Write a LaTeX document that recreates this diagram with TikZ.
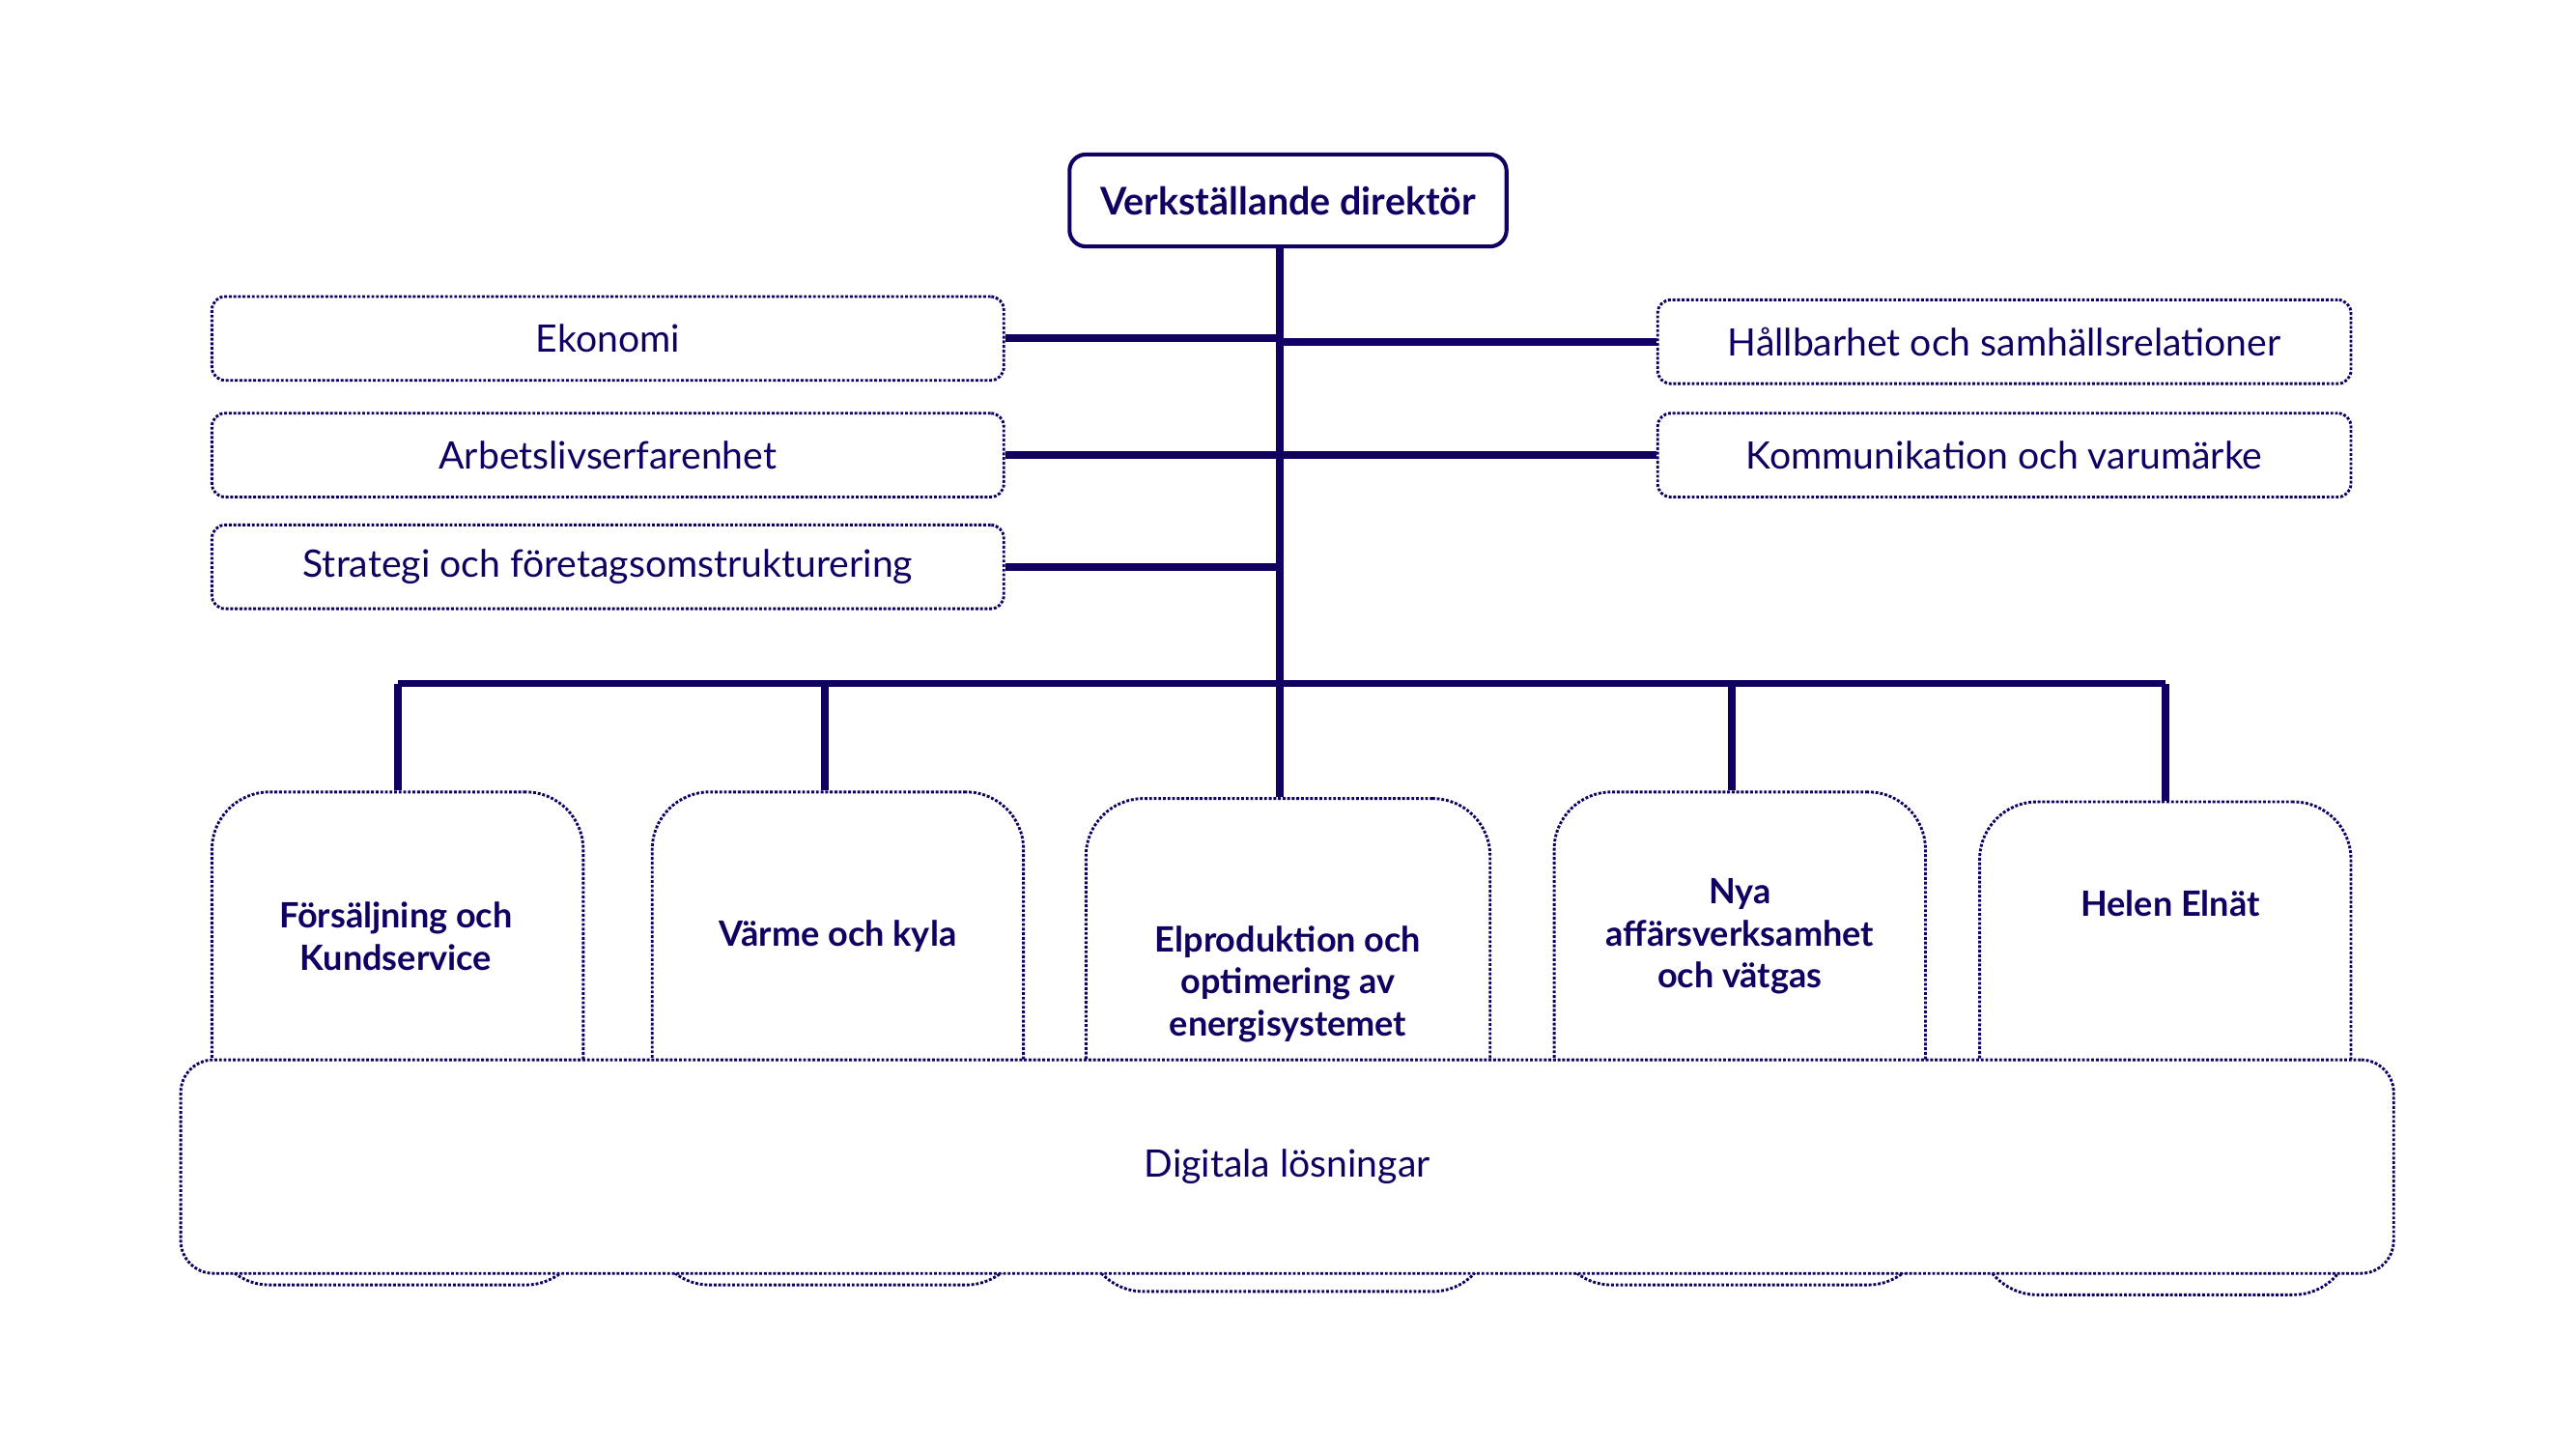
\documentclass[tikz,border=0pt]{standalone}
\usepackage{fontspec}
\setmainfont{Lato}
\usetikzlibrary{positioning}
\definecolor{helenblue}{RGB}{16,0,98}
\tikzstyle{boss}=[draw=helenblue,line width=1.2pt,rounded corners=5pt,minimum width=133pt,minimum height=28pt,inner sep=0pt,text=helenblue,font=\bfseries\fontsize{11.6}{14}\selectfont]
\tikzstyle{staff}=[draw=helenblue,line width=0.85pt,dash pattern=on 0.85pt off 0.55pt,rounded corners=4pt,minimum height=25.5pt,inner sep=0pt,text=helenblue,font=\fontsize{11.5}{14}\selectfont]
\tikzstyle{unit}=[draw=helenblue,line width=0.85pt,dash pattern=on 0.85pt off 0.55pt,rounded corners=17.5pt,minimum width=113pt,minimum height=150pt,inner sep=0pt,fill=white]
\tikzstyle{unit text}=[text=helenblue,align=center,font=\bfseries\fontsize{10.6}{12.8}\selectfont]
\tikzstyle{digital}=[draw=helenblue,line width=0.85pt,dash pattern=on 0.85pt off 0.55pt,rounded corners=10pt,minimum width=673.5pt,minimum height=65pt,inner sep=0pt,fill=white,text=helenblue,font=\fontsize{11.5}{14}\selectfont]
\tikzstyle{link} = [draw,line width=2.3pt,helenblue]

\begin{document}
\begin{tikzpicture}[x=0.5pt,y=-0.5pt]
    \useasboundingbox (0,0) rectangle (1568,882);
    \node[boss] (ceo) at (784,122) {Verkställande direktör};

    % staff functions
    \foreach \pos/\name/\txt in {206/eko/Ekonomi, 277/arb/Arbetslivserfarenhet,
                                 345/strat/Strategi och företagsomstrukturering}
        \node[staff,minimum width=241pt] (\name) at (370,\pos) {\txt};
    \foreach \pos/\name/\txt in {208/hall/Hållbarhet och samhällsrelationer,
                                 277/komm/Kommunikation och varumärke}
        \node[staff,minimum width=211pt] (\name) at (1220,\pos) {\txt};

    % business units, the digital box is laid over their lower part
    \foreach \x/\y/\name in {242/632/fors, 510/632/varme,
                             1059/632/nya, 1318/638/elnat}
        \node[unit] (\name) at (\x,\y) {};
    \node[unit,minimum width=123pt] (elprod) at (784,636) {};
    \node[digital] (dig) at (783.5,710) {Digitala lösningar};

    \node[unit text] (fors-t) at (241,570) {Försäljning och\\Kundservice};
    \node[unit text] (varme-t) at (510,570) {Värme och kyla};
    \node[unit text] (elprod-t) at (784,599) {Elproduktion och\\optimering av\\energisystemet};
    \node[unit text] (nya-t) at (1059,570) {Nya\\affärsverksamhet\\och vätgas};
    \node[unit text] (elnat-t) at (1321,550) {Helen Elnät};

    % lines
    \coordinate (hub) at (779,416);
    \path[link] (ceo.south -| hub) -- (hub |- elprod.north);
    \foreach \name in {eko, arb, strat}
        \path[link] (\name.east) -- (\name.east -| hub);
    \foreach \name in {hall, komm}
        \path[link] (hub |- \name.west) -- (\name.west);
    \path[link] (fors.north |- hub) -- (elnat.north |- hub);
    \foreach \name/\dx in {fors/0, varme/-4, nya/-2.5, elnat/0}
        \path[link] ([xshift=\dx pt]\name.north |- hub) -- ([xshift=\dx pt]\name.north);
\end{tikzpicture}
\end{document}
